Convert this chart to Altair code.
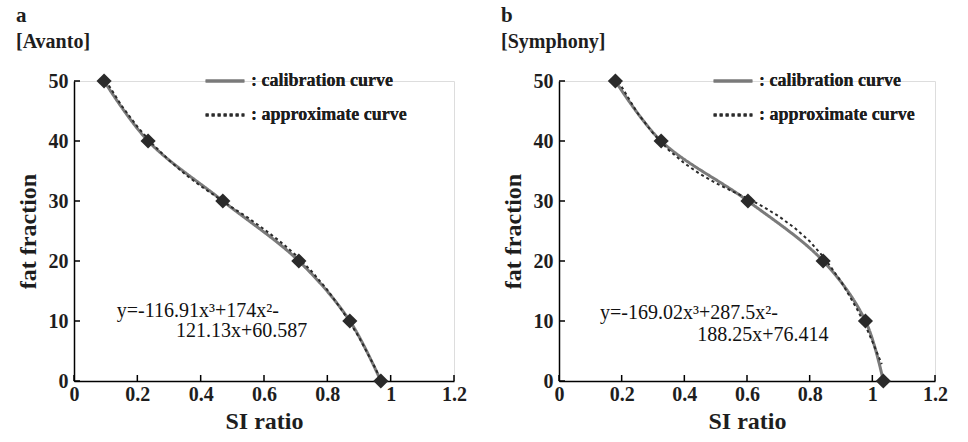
import altair as alt
import pandas as pd

# Calibration points: fat fraction (%) against SI ratio
fat_levels = [50, 40, 30, 20, 10, 0]
avanto_si = [0.095, 0.234, 0.470, 0.710, 0.871, 0.969]
symphony_si = [0.180, 0.326, 0.603, 0.843, 0.978, 1.035]

# Approximate (cubic fit) curves
avanto_fit_x = [0.10, 0.15, 0.20, 0.25, 0.30, 0.35, 0.40, 0.45, 0.50, 0.55,
                0.60, 0.65, 0.70, 0.75, 0.80, 0.85, 0.90, 0.95, 0.969]
avanto_fit_y = [50.1, 45.9, 42.4, 39.4, 36.8, 34.5, 32.5, 30.7, 28.9, 27.2,
                25.3, 23.3, 21.0, 18.3, 15.2, 11.5, 7.3, 2.3, 0.2]
symphony_fit_x = [0.19, 0.25, 0.30, 0.35, 0.40, 0.45, 0.50, 0.55, 0.60, 0.65,
                  0.70, 0.75, 0.80, 0.85, 0.90, 0.95, 0.98, 1.00, 1.03]
symphony_fit_y = [49.9, 44.7, 41.3, 38.5, 36.3, 34.5, 33.0, 31.7, 30.5, 29.1,
                  27.5, 25.6, 23.3, 20.3, 16.6, 12.1, 9.0, 6.6, 2.8]

x_ticks = [0, 0.2, 0.4, 0.6, 0.8, 1.0, 1.2]
y_ticks = [0, 10, 20, 30, 40, 50]

SERIES = [": calibration curve", ": approximate curve"]
FONT = "Liberation Serif"
H = 300


def panel(letter, name, si, fit_x, fit_y, eq_lines, eq_x, eq_y, legend_x, width):
    cal = pd.DataFrame({"si": si, "fat": fat_levels, "series": SERIES[0]})
    fit = pd.DataFrame({"si": fit_x, "fat": fit_y, "series": SERIES[1]})

    xs = alt.Scale(domain=[0, 1.2], nice=False, zero=False)
    ys = alt.Scale(domain=[0, 50], nice=False)
    x_axis = alt.Axis(values=x_ticks, format=".1~f", ticks=False, grid=False,
                      title="SI ratio", domainColor="black", domainWidth=1.5,
                      labelFont=FONT, labelFontWeight="bold", labelFontSize=20,
                      labelColor="#1e1e1e", labelPadding=3, titleFont=FONT,
                      titleFontWeight="bold", titleFontSize=24, titleColor="#1e1e1e",
                      titlePadding=5, labelFlush=False)
    y_axis = alt.Axis(values=y_ticks, ticks=False, grid=False, title="fat fraction",
                      domainColor="black", domainWidth=1.5, labelFont=FONT,
                      labelFontWeight="bold", labelFontSize=20, labelColor="#1e1e1e",
                      labelPadding=6, titleFont=FONT, titleFontWeight="bold",
                      titleFontSize=24, titleColor="#1e1e1e", titlePadding=8)

    def xe(field):
        return alt.X(field, type="quantitative", scale=xs, axis=x_axis)

    def ye(field):
        return alt.Y(field, type="quantitative", scale=ys, axis=y_axis)

    legend = alt.Legend(title=None, orient="none", legendX=legend_x, legendY=-21,
                        symbolType="stroke", symbolSize=1500, symbolStrokeWidth=3,
                        labelFont=FONT, labelFontWeight="bold", labelFontSize=18,
                        labelColor="#1e1e1e", labelOffset=5, rowPadding=4)
    color = alt.Color("series:N", scale=alt.Scale(domain=SERIES, range=["#7a7a7a", "#2b2b2b"]),
                      legend=legend)
    dash = alt.StrokeDash("series:N", scale=alt.Scale(domain=SERIES, range=[[1, 0], [3, 3]]),
                          legend=legend)

    cal_line = alt.Chart(cal).mark_line(strokeWidth=3, interpolate="catmull-rom").encode(
        x=xe("si"), y=ye("fat"), color=color, strokeDash=dash)
    fit_line = alt.Chart(fit).mark_line(strokeWidth=2).encode(
        x=xe("si"), y=ye("fat"), color=color, strokeDash=dash)
    diamonds = alt.Chart(cal).mark_point(shape="diamond", filled=True, size=230,
                                         color="#2a2a2a", opacity=1).encode(
        x=xe("si"), y=ye("fat"))

    x_tick_marks = alt.Chart(pd.DataFrame({"t": x_ticks})).mark_rule(
        color="black", strokeWidth=1.5).encode(
        x=xe("t"), y=alt.value(H), y2=alt.value(H - 6))
    y_tick_marks = alt.Chart(pd.DataFrame({"t": y_ticks})).mark_rule(
        color="black", strokeWidth=1.5).encode(
        y=ye("t"), x=alt.value(0), x2=alt.value(6))

    eq = alt.Chart(pd.DataFrame({"si": eq_x, "fat": eq_y, "txt": eq_lines})).mark_text(
        align="left", baseline="middle", font=FONT, fontSize=20, color="#111").encode(
        x=xe("si"), y=ye("fat"), text="txt:N")

    return alt.layer(x_tick_marks, y_tick_marks, cal_line, fit_line, diamonds, eq).properties(
        width=width, height=H,
        title=alt.TitleParams(letter, subtitle=name, anchor="start", frame="bounds",
                              font=FONT, fontSize=21, fontWeight="bold", color="#1e1e1e",
                              subtitleFont=FONT, subtitleFontSize=20,
                              subtitleFontWeight="bold", subtitleColor="#1e1e1e",
                              subtitlePadding=6, offset=8),
    ).resolve_scale(color="independent", strokeDash="independent")


left = panel("a", "[Avanto]", avanto_si, avanto_fit_x, avanto_fit_y,
             ["y=-116.91x³+174x²-", "121.13x+60.587"], [0.135, 0.322], [11.6, 8.3],
             130, 380)
right = panel("b", "[Symphony]", symphony_si, symphony_fit_x, symphony_fit_y,
              ["y=-169.02x³+287.5x²-", "188.25x+76.414"], [0.131, 0.441], [11.4, 7.7],
              153, 376)

chart = alt.hconcat(left, right, spacing=33).resolve_scale(
    color="independent", strokeDash="independent"
).resolve_legend(color="independent", strokeDash="independent").properties(
    padding={"left": 15, "top": 4, "right": 5, "bottom": 5}
).configure_view(stroke=None).configure(background="white")

chart.save("out.html", embed_options={"renderer": "svg", "actions": False})
